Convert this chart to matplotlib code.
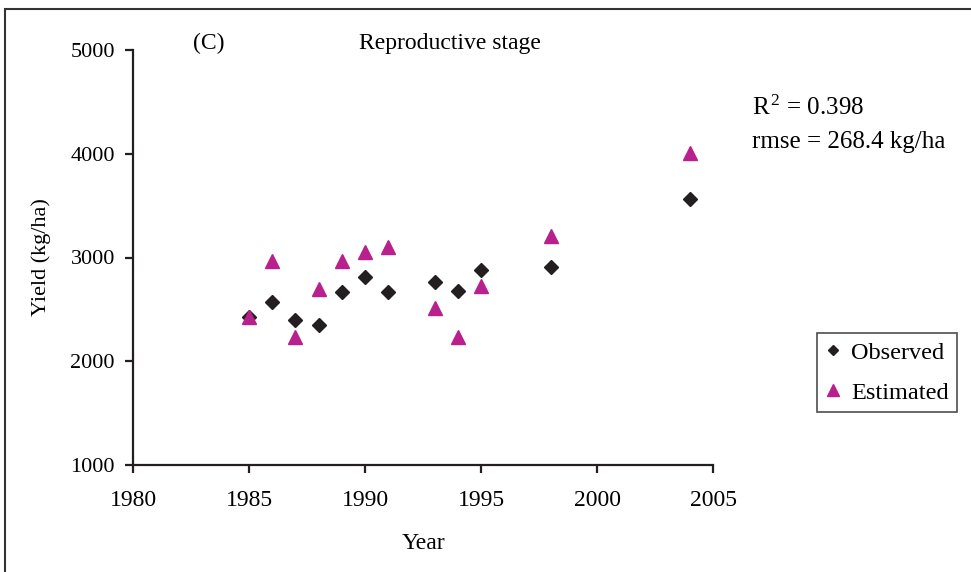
import matplotlib
matplotlib.use("Agg")
from matplotlib import pyplot as plt
from matplotlib.patches import Rectangle

years_obs = [1985, 1986, 1987, 1988, 1989, 1990, 1991, 1993, 1994, 1995, 1998, 2004]
observed = [2430, 2570, 2400, 2350, 2665, 2810, 2665, 2765, 2680, 2875, 2905, 3560]
years_est = [1985, 1986, 1987, 1988, 1989, 1990, 1991, 1993, 1994, 1995, 1998, 2004]
estimated = [2430, 2970, 2230, 2695, 2970, 3055, 3105, 2515, 2235, 2725, 3210, 4005]

xticks = [1980, 1985, 1990, 1995, 2000, 2005]
yticks = [1000, 2000, 3000, 4000, 5000]

plt.rcParams["font.family"] = ["Liberation Serif", "DejaVu Serif"]
plt.rcParams["font.size"] = 17
plt.rcParams["mathtext.fontset"] = "custom"
plt.rcParams["mathtext.rm"] = "Liberation Serif"
plt.rcParams["mathtext.it"] = "Liberation Serif:italic"

fig = plt.figure(figsize=(9.71, 5.72), dpi=100)
ax = fig.add_axes([133/971, 1-465/572, (713-133)/971, (465-50)/572])

ax.plot(years_obs, observed, "D", color="#231f20", markersize=7, label="Observed")
ax.plot(years_est, estimated, "^", color="#b8208e", markersize=10, label="Estimated")

ax.set_xlim(1980, 2005)
ax.set_ylim(1000, 5000)
ax.set_xticks(xticks)
ax.set_yticks(yticks)
for s in ["top", "right"]:
    ax.spines[s].set_visible(False)
for s in ["left", "bottom"]:
    ax.spines[s].set_linewidth(1.6)
    ax.spines[s].set_color("#231f20")
ax.tick_params(direction="out", length=6, width=1.6, color="#231f20", labelsize=17)
ax.tick_params(axis="y", pad=7, labelsize=16)
ax.tick_params(axis="x", pad=12)

ax.set_xlabel("Year", fontsize=17, labelpad=16)
ax.set_ylabel("Yield (kg/ha)", fontsize=16, labelpad=14)

fig.text(209/971, 1-43/572, "(C)", ha="center", va="center", fontsize=17)
fig.text(450/971, 1-43/572, "Reproductive stage", ha="center", va="center", fontsize=17)
fig.text(752/971, 1-108/572, r"R$^{\,2}$ = 0.398", ha="left", va="center", fontsize=18)
fig.text(752/971, 1-142/572, "rmse = 268.4 kg/ha", ha="left", va="center", fontsize=18)

leg = ax.legend(loc="upper left", bbox_to_anchor=(817/971, 1-333/572), bbox_transform=fig.transFigure,
                frameon=True, fancybox=False, edgecolor="#231f20", borderpad=0.35, fontsize=17.5,
                borderaxespad=0, handlelength=0.6, handletextpad=0.45, labelspacing=0.75,
                markerscale=0.8)
leg.get_frame().set_linewidth(1.2)

fig.patches.append(Rectangle((5/971, -0.1), 1.2, 1.1 - 9/572, transform=fig.transFigure,
                             fill=False, edgecolor="#333333", linewidth=1.5))

plt.savefig("out.png", dpi=100)
